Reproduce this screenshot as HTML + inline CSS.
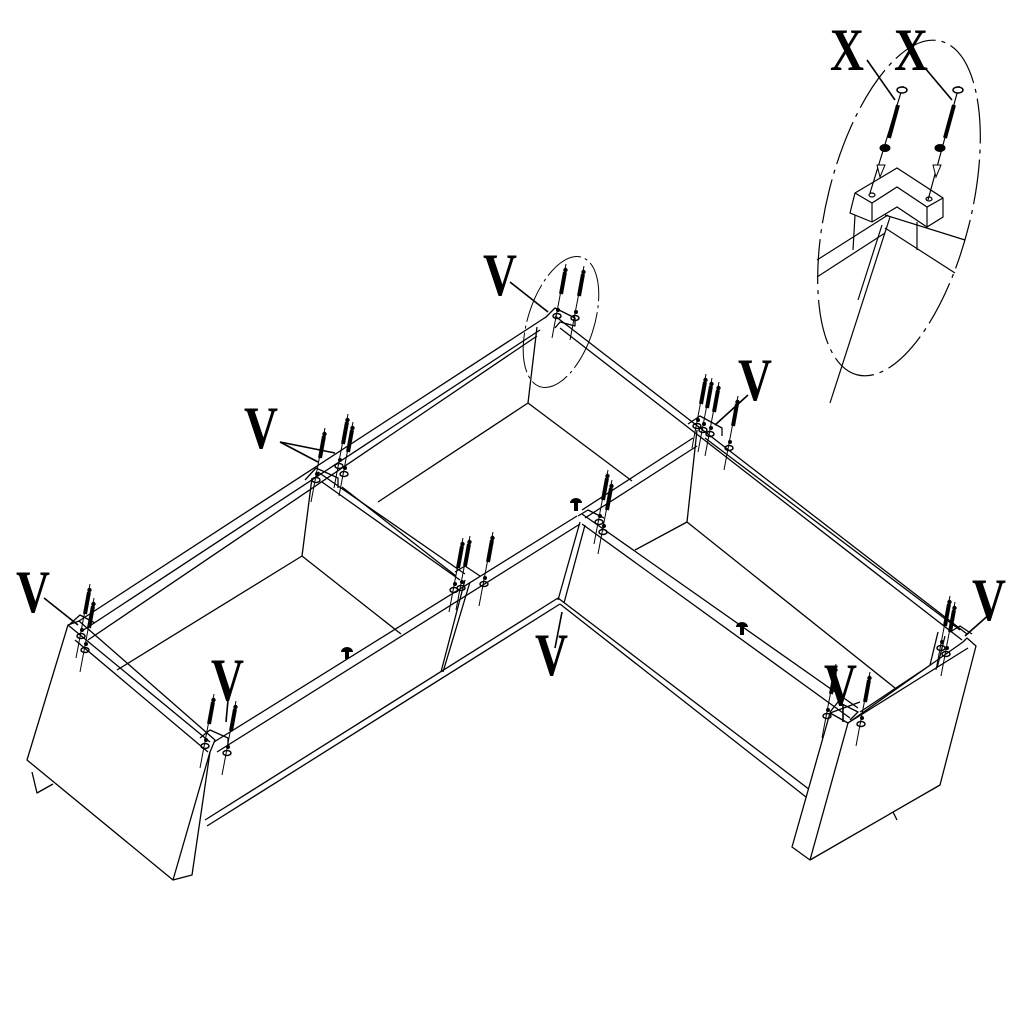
<!DOCTYPE html>
<html><head><meta charset="utf-8"><style>
html,body{margin:0;padding:0;background:#fff;}
svg{display:block;}
text{font-family:"Liberation Serif",serif;font-weight:bold;fill:#000;}
</style></head><body>
<svg width="1024" height="1024" viewBox="0 0 1024 1024" xmlns="http://www.w3.org/2000/svg">
<defs>
<g id="s">
  <line x1="0" y1="-4" x2="-14" y2="70" stroke="#000" stroke-width="1"/>
  <line x1="-1" y1="4" x2="-5" y2="26" stroke="#000" stroke-width="4"/>
  <circle cx="-0.5" cy="2" r="2.2" fill="#000"/>
  <ellipse cx="-9" cy="48" rx="4" ry="2.5" fill="none" stroke="#000" stroke-width="1.5"/>
  <circle cx="-8" cy="42" r="2" fill="#000"/>
</g>
</defs>
<g stroke="#000" stroke-width="1.3" fill="none" stroke-linejoin="round">
<!-- left end panel -->
<polygon points="68,625 79,621 215,740 210,752 192,875 173,880 27,760" fill="#fff"/>
<line x1="210" y1="752" x2="173" y2="880"/>
<line x1="68" y1="625" x2="210" y2="742"/>
<line x1="75" y1="640" x2="208" y2="752"/>
<polyline points="32,772 37,793 53,784"/>
<!-- back rail left -->
<line x1="79" y1="621" x2="546" y2="317"/>
<line x1="82" y1="631" x2="540" y2="330"/>
<line x1="88" y1="640" x2="537" y2="336"/>
<!-- back rail right -->
<line x1="555" y1="316" x2="967" y2="634"/>
<line x1="560" y1="328" x2="962" y2="640"/>
<!-- peak divider -->
<line x1="537" y1="327" x2="528" y2="403"/>
<line x1="528" y1="403" x2="378" y2="502"/>
<line x1="528" y1="403" x2="632" y2="481"/>
<!-- left divider -->
<line x1="312" y1="478" x2="302" y2="556"/>
<line x1="302" y1="556" x2="117" y2="670"/>
<line x1="302" y1="556" x2="401" y2="634"/>
<line x1="318" y1="472" x2="465" y2="574"/>
<line x1="322" y1="482" x2="460" y2="580"/>
<line x1="342" y1="487" x2="456" y2="576"/>
<!-- right divider -->
<line x1="697" y1="430" x2="687" y2="522"/>
<line x1="687" y1="522" x2="635" y2="550"/>
<line x1="687" y1="522" x2="900" y2="692"/>
<line x1="693" y1="438" x2="582" y2="510"/>
<line x1="697" y1="446" x2="585" y2="518"/>
<line x1="705" y1="438" x2="960" y2="630"/>
<!-- front rail left -->
<line x1="214" y1="742" x2="577" y2="516"/>
<line x1="217" y1="752" x2="580" y2="524"/>
<!-- front rail right -->
<line x1="582" y1="514" x2="858" y2="708"/>
<line x1="582" y1="524" x2="850" y2="718"/>
<line x1="860" y1="712" x2="965" y2="642"/>
<line x1="856" y1="722" x2="968" y2="648"/>
<!-- corner post -->
<line x1="580" y1="522" x2="558" y2="600"/>
<line x1="585" y1="525" x2="564" y2="603"/>
<!-- middle post left -->
<line x1="470" y1="582" x2="443" y2="672"/>
<line x1="465" y1="580" x2="441" y2="672"/>
<!-- bottom rails -->
<line x1="205" y1="820" x2="558" y2="598"/>
<line x1="207" y1="826" x2="560" y2="604"/>
<line x1="558" y1="598" x2="810" y2="790"/>
<line x1="560" y1="604" x2="806" y2="797"/>
<!-- right end panel -->
<polygon points="830,713 848,723 963,642 967,638 976,646 940,785 810,860 792,847" fill="#fff"/>
<line x1="848" y1="723" x2="810" y2="860"/>
<line x1="830" y1="713" x2="860" y2="702"/>
<line x1="848" y1="723" x2="968" y2="648"/>
<line x1="938" y1="632" x2="930" y2="665"/>
<line x1="945" y1="636" x2="937" y2="668"/>
<line x1="893" y1="812" x2="897" y2="820"/>
<!-- small joint brackets -->
<polyline points="545,318 555,308 575,318 575,326 560,322 555,328"/>
<polyline points="305,480 316,468 338,478 338,488"/>
<polyline points="70,624 80,615 95,623"/>
<polyline points="200,738 210,730 228,738 228,746"/>
<polyline points="830,712 838,702 858,712 850,720"/>
<polyline points="688,424 700,416 722,428 722,436"/>
<polyline points="578,516 588,510 604,518"/>
<polyline points="455,572 465,566 480,576"/>
<polyline points="950,632 960,626 972,634"/>
</g>
<!-- screws -->
<use href="#s" x="566" y="268"/><use href="#s" x="584" y="270"/>
<use href="#s" x="325" y="432"/><use href="#s" x="348" y="418"/><use href="#s" x="353" y="426"/>
<use href="#s" x="90" y="588"/><use href="#s" x="94" y="602"/>
<use href="#s" x="214" y="698"/><use href="#s" x="236" y="705"/>
<use href="#s" x="463" y="542"/><use href="#s" x="470" y="540"/><use href="#s" x="493" y="536"/>
<use href="#s" x="608" y="474"/><use href="#s" x="612" y="484"/>
<use href="#s" x="706" y="378"/><use href="#s" x="712" y="382"/><use href="#s" x="719" y="386"/><use href="#s" x="738" y="400"/>
<use href="#s" x="836" y="668"/><use href="#s" x="870" y="676"/>
<use href="#s" x="950" y="600"/><use href="#s" x="955" y="606"/>
<!-- mushroom pins -->
<g fill="#000">
<path d="M341,652 a6,5 0 0 1 12,0 z"/><rect x="345" y="651" width="4" height="8"/>
<path d="M570,503 a6,5 0 0 1 12,0 z"/><rect x="574" y="502" width="4" height="9"/>
<path d="M736,627 a6,5 0 0 1 12,0 z"/><rect x="740" y="626" width="4" height="9"/>
</g>
<!-- dashed ellipse small -->
<ellipse cx="561" cy="322" rx="33" ry="68" transform="rotate(18 561 322)" fill="none" stroke="#000" stroke-width="1" stroke-dasharray="40,4,3,4"/>
<!-- leaders -->
<g stroke="#000" stroke-width="1.6">
<line x1="510" y1="282" x2="548" y2="312"/>
<line x1="280" y1="442" x2="318" y2="462"/>
<line x1="280" y1="442" x2="335" y2="453"/>
<line x1="44" y1="598" x2="78" y2="625"/>
<line x1="228" y1="700" x2="226" y2="722"/>
<line x1="555" y1="648" x2="562" y2="612"/>
<line x1="748" y1="395" x2="715" y2="425"/>
<line x1="992" y1="612" x2="965" y2="636"/>
<line x1="843" y1="705" x2="843" y2="722"/>
<line x1="867" y1="60" x2="895" y2="100"/>
<line x1="925" y1="68" x2="952" y2="100"/>
</g>
<!-- labels -->
<g font-size="60">
<text x="483" y="295" textLength="34" lengthAdjust="spacingAndGlyphs">V</text>
<text x="244" y="448" textLength="34" lengthAdjust="spacingAndGlyphs">V</text>
<text x="16" y="612" textLength="34" lengthAdjust="spacingAndGlyphs">V</text>
<text x="211" y="700" textLength="33" lengthAdjust="spacingAndGlyphs">V</text>
<text x="535" y="675" textLength="33" lengthAdjust="spacingAndGlyphs">V</text>
<text x="738" y="400" textLength="34" lengthAdjust="spacingAndGlyphs">V</text>
<text x="824" y="705" textLength="33" lengthAdjust="spacingAndGlyphs">V</text>
<text x="972" y="620" textLength="34" lengthAdjust="spacingAndGlyphs">V</text>
<text x="830" y="70" textLength="34" lengthAdjust="spacingAndGlyphs">X</text>
<text x="894" y="70" textLength="34" lengthAdjust="spacingAndGlyphs">X</text>
</g>
<!-- inset -->
<g stroke="#000" stroke-width="1.2" fill="none">
<ellipse cx="899" cy="208" rx="72" ry="172" transform="rotate(14 899 208)" stroke-dasharray="45,6,4,6"/>
<polygon points="855,193 897,168 943,198 943,217 927,227 897,207 872,222 850,213" fill="#fff"/>
<polyline points="855,193 872,203 897,187 927,207 943,198"/>
<line x1="872" y1="203" x2="872" y2="222"/>
<line x1="927" y1="207" x2="927" y2="227"/>
<line x1="817" y1="260" x2="888" y2="215"/>
<line x1="817" y1="277" x2="885" y2="233"/>
<line x1="885" y1="215" x2="965" y2="240"/>
<line x1="885" y1="228" x2="955" y2="273"/>
<line x1="890" y1="217" x2="830" y2="403"/>
<line x1="882" y1="225" x2="858" y2="300"/>
<line x1="855" y1="215" x2="853" y2="250"/>
<line x1="917" y1="222" x2="917" y2="250"/>
<line x1="903" y1="86" x2="870" y2="193"/>
<line x1="959" y1="86" x2="928" y2="200"/>
<ellipse cx="872" cy="195" rx="3" ry="2"/>
<ellipse cx="929" cy="199" rx="3" ry="2"/>
</g>
<g stroke="#000" fill="#000">
<line x1="898" y1="105" x2="889" y2="138" stroke-width="4"/>
<line x1="954" y1="105" x2="945" y2="138" stroke-width="4"/>
<ellipse cx="902" cy="90" rx="5" ry="3" fill="#fff" stroke-width="1.5"/>
<ellipse cx="958" cy="90" rx="5" ry="3" fill="#fff" stroke-width="1.5"/>
<ellipse cx="885" cy="148" rx="5" ry="3.5" stroke-width="1"/>
<ellipse cx="940" cy="148" rx="5" ry="3.5" stroke-width="1"/>
<path d="M877,165 l8,0 l-5,12 z" fill="#fff" stroke-width="1"/>
<path d="M933,165 l8,0 l-5,12 z" fill="#fff" stroke-width="1"/>
</g>
</svg>
</body></html>
